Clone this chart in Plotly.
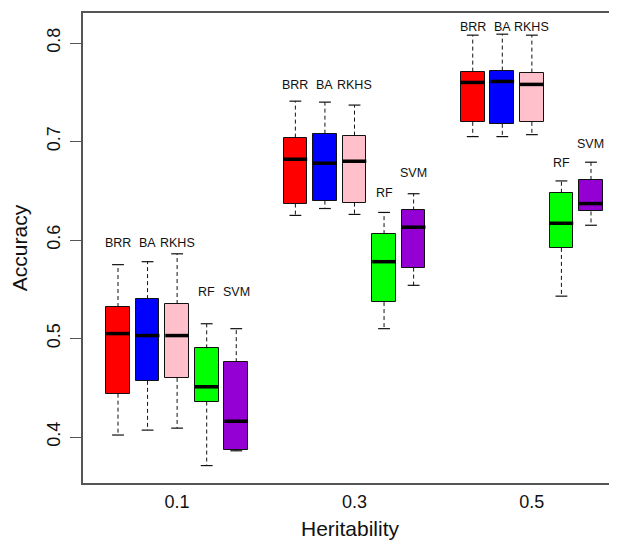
import plotly.graph_objects as go

# ---- data ----
heritability = ["0.1", "0.3", "0.5"]
methods = ["BRR", "BA", "RKHS", "RF", "SVM"]
method_colors = ["#FF0000", "#0000FF", "#FFC0CB", "#00FF00", "#9400D3"]

# order: for each heritability, the five methods
lower_whisker = [0.402, 0.407, 0.409, 0.371, 0.386,
                 0.625, 0.632, 0.626, 0.510, 0.554,
                 0.705, 0.705, 0.707, 0.543, 0.615]
q1 = [0.444, 0.457, 0.460, 0.436, 0.387,
      0.637, 0.640, 0.638, 0.537, 0.572,
      0.720, 0.718, 0.720, 0.592, 0.629]
median = [0.505, 0.503, 0.503, 0.451, 0.416,
          0.682, 0.678, 0.680, 0.578, 0.613,
          0.760, 0.761, 0.758, 0.617, 0.637]
q3 = [0.532, 0.540, 0.535, 0.490, 0.476,
      0.704, 0.708, 0.706, 0.606, 0.630,
      0.771, 0.772, 0.770, 0.648, 0.661]
upper_whisker = [0.575, 0.578, 0.586, 0.515, 0.510,
                 0.741, 0.740, 0.737, 0.628, 0.647,
                 0.808, 0.809, 0.808, 0.660, 0.679]
label_height = [0.597, 0.597, 0.597, 0.547, 0.547,
                0.757, 0.757, 0.757, 0.648, 0.668,
                0.816, 0.816, 0.816, 0.678, 0.697]

y_ticks = [0.4, 0.5, 0.6, 0.7, 0.8]

# ---- build ----
n_m = len(methods)
gap = n_m + 1
positions, colors, names = [], [], []
for g in range(len(heritability)):
    for m in range(n_m):
        positions.append(g * gap + m + 1)
        colors.append(method_colors[m])
        names.append(methods[m])
group_centers = [g * gap + (n_m + 1) / 2 for g in range(len(heritability))]

box_w = 0.8
cap_w = 0.4

fig = go.Figure()

# boxes (Q1..Q3)
fig.add_trace(go.Bar(
    x=positions,
    y=[b - a for a, b in zip(q1, q3)],
    base=q1,
    width=box_w,
    marker=dict(color=colors, line=dict(color="#111111", width=1)),
    hoverinfo="skip",
    showlegend=False,
))

# whiskers (dashed)
wx, wy = [], []
for p, lo, a, b, hi in zip(positions, lower_whisker, q1, q3, upper_whisker):
    wx += [p, p, None, p, p, None]
    wy += [b, hi, None, a, lo, None]
fig.add_trace(go.Scatter(x=wx, y=wy, mode="lines",
                         line=dict(color="#111111", width=1, dash="4px,3px"),
                         hoverinfo="skip", showlegend=False))

# staples
cx, cy = [], []
for p, lo, hi in zip(positions, lower_whisker, upper_whisker):
    cx += [p - cap_w / 2, p + cap_w / 2, None, p - cap_w / 2, p + cap_w / 2, None]
    cy += [hi, hi, None, lo, lo, None]
fig.add_trace(go.Scatter(x=cx, y=cy, mode="lines",
                         line=dict(color="#111111", width=1.2),
                         hoverinfo="skip", showlegend=False))

# medians
mx, my = [], []
for p, md in zip(positions, median):
    mx += [p - box_w / 2, p + box_w / 2, None]
    my += [md, md, None]
fig.add_trace(go.Scatter(x=mx, y=my, mode="lines",
                         line=dict(color="#000000", width=3.5),
                         hoverinfo="skip", showlegend=False))

# method labels
for p, nm, ly in zip(positions, names, label_height):
    fig.add_annotation(x=p, y=ly, text=nm, showarrow=False,
                       xanchor="center", yanchor="middle",
                       font=dict(family="Liberation Sans, Arial", size=12.5, color="#111111"))

fig.update_layout(
    width=609, height=532,
    margin=dict(l=75, r=0, t=5, b=57, autoexpand=False),
    paper_bgcolor="white", plot_bgcolor="white",
    font=dict(family="Liberation Sans, Arial", color="#111111"),
    bargap=0,
)
fig.update_xaxes(
    automargin=False,
    range=[-0.184, 17.88],
    tickmode="array", tickvals=group_centers, ticktext=heritability,
    ticks="", tickfont=dict(size=18),
    ticklabelstandoff=1,
    showgrid=False, zeroline=False,
    showline=True, linecolor="#555555", linewidth=2, mirror=True,
    title=dict(text="Heritability", font=dict(size=21), standoff=16),
)
fig.update_yaxes(
    automargin=False,
    range=[0.3533, 0.8305],
    tickmode="array", tickvals=y_ticks, ticktext=[f"{v:.1f}" for v in y_ticks],
    ticks="outside", ticklen=11, tickcolor="#555555", tickwidth=1.2,
    tickangle=-90, tickfont=dict(size=18),
    ticklabelstandoff=3,
    showgrid=False, zeroline=False,
    showline=True, linecolor="#555555", linewidth=2, mirror=False,
    title=dict(text="Accuracy", font=dict(size=21), standoff=13),
)

fig.write_html("out.html")
